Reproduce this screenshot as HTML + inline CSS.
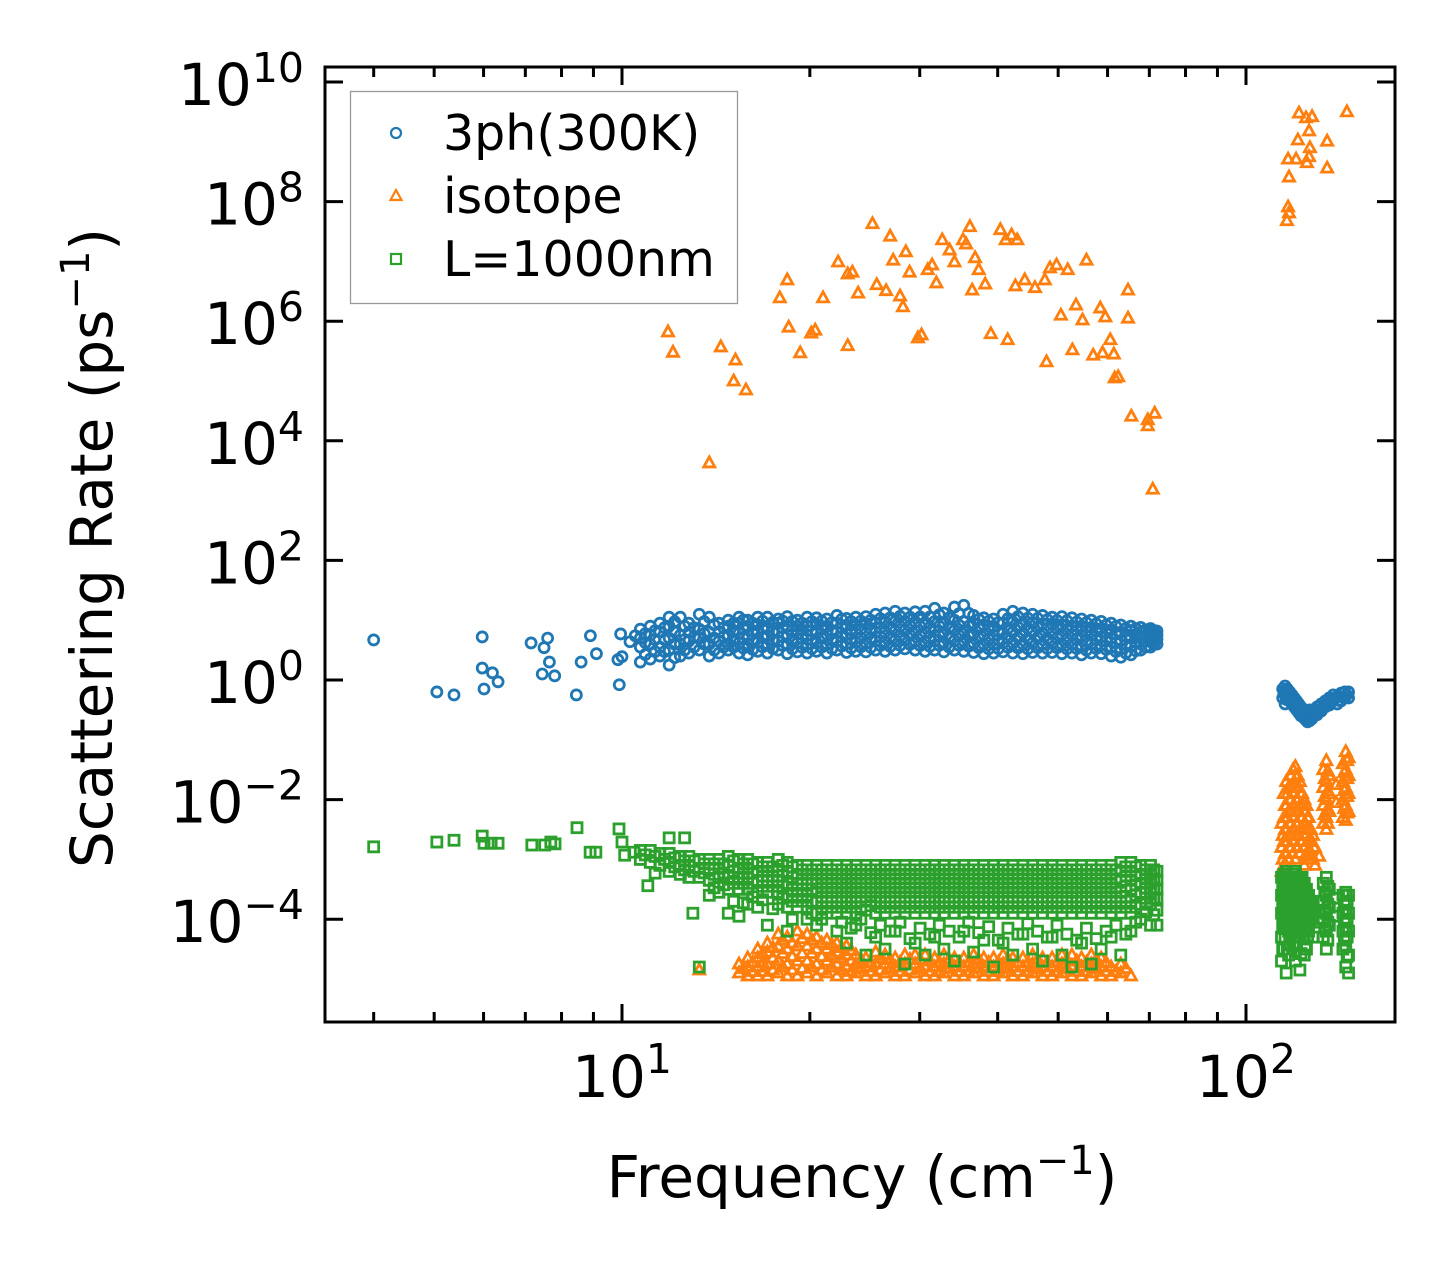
<!DOCTYPE html>
<html><head><meta charset="utf-8"><style>
html,body{margin:0;padding:0;background:#fff;}
svg text{font-family:"DejaVu Sans","Liberation Sans",sans-serif;fill:#000;}
</style></head><body>
<svg id="chart" width="1455" height="1272" viewBox="0 0 1455 1272" xmlns="http://www.w3.org/2000/svg">
<rect x="0" y="0" width="1455" height="1272" fill="#fff"/>
<g id="marks"></g>
<g id="axes"></g>
<g id="legend">
<rect x="350.5" y="91.5" width="387" height="212" fill="#fff" fill-opacity="0.8" stroke="#999" stroke-width="1.3"/>
<circle cx="396" cy="133" r="5" fill="none" stroke="#1f77b4" stroke-width="2.2"/>
<text x="443" y="150" font-size="49">3ph(300K)</text>
<polygon points="396,190 401.5,200 390.5,200" fill="none" stroke="#ff7f0e" stroke-width="2.2"/>
<text x="443" y="213" font-size="49">isotope</text>
<rect x="391" y="254" width="10" height="10" fill="none" stroke="#2ca02c" stroke-width="2.2"/>
<text x="443" y="276" font-size="49">L=1000nm</text>
</g>
<text x="862" y="1197" font-size="58" text-anchor="middle">Frequency (cm<tspan dy="-23" font-size="40">−1</tspan><tspan dy="23">)</tspan></text>
<text transform="translate(112,548) rotate(-90)" font-size="58" text-anchor="middle">Scattering Rate (ps<tspan dy="-23" font-size="40">−1</tspan><tspan dy="23">)</tspan></text>
</svg>
<script>
// ---- data (frequency in cm^-1, rate as log10(ps^-1)) ----
const xTickLabels = ["1","2"];
const yTickExps = [-4,-2,0,2,4,6,8,10];
const bandFreq = [10.7,11.1,11.5,11.9,12.4,12.8,13.3,13.8,14.3,14.8,15.4,15.9,16.5,17.1,17.8,18.4,19.1,19.8,20.5,21.3,22.1,22.9,23.7,24.6,25.5,26.4,27.4,28.4,29.5,30.6,31.7,32.8,34.1,35.3,36.6,38.0,39.4,40.8,42.3,43.9,45.5,47.2,48.9,50.7,52.6,54.5,56.5,58.6,60.8,63.0,65.4,67.8,70.3,72.0];
const blueSparseFreq = [4.0,5.05,5.38,5.97,5.97,6.01,6.2,6.33,7.15,7.5,7.6,7.45,7.65,7.8,8.45,8.6,8.9,9.1,9.95,9.85,10.0,9.9,10.3,10.5];
const blueSparseRate = [0.67,-0.2,-0.25,0.72,0.2,-0.15,0.12,-0.03,0.62,0.54,0.7,0.1,0.3,0.07,-0.25,0.3,0.74,0.44,0.77,0.34,0.39,-0.08,0.64,0.74];
const blueBand = [
[0.3,0.55,0.7,0.85],[0.35,0.6,0.75,0.9],[0.4,0.55,0.8,0.95],[0.25,0.5,0.7,0.9,1.05],[0.4,0.6,0.75,1.05],[0.45,0.65,0.8,0.95],
[0.5,0.7,0.85,1.1],[0.4,0.6,0.8,1.05],[0.45,0.65,0.8,0.95],[0.5,0.6,0.75,0.9,1.0],[0.45,0.62,0.78,0.95,1.05],[0.42,0.6,0.75,0.9,1.0],
[0.48,0.63,0.8,0.92,1.05],[0.45,0.6,0.74,0.88,1.05],[0.5,0.65,0.8,0.95,1.02],[0.44,0.6,0.76,0.9,1.06],[0.47,0.62,0.77,0.9,1.0],[0.45,0.6,0.75,0.9,1.05],
[0.48,0.62,0.78,0.93,1.04],[0.45,0.6,0.76,0.9,1.02],[0.5,0.64,0.8,0.95,1.08],[0.46,0.61,0.77,0.92,1.03],[0.48,0.63,0.78,0.92,1.05],[0.47,0.62,0.78,0.94,1.06],
[0.5,0.65,0.8,0.95,1.1],[0.48,0.64,0.8,0.96,1.12],[0.5,0.66,0.82,0.98,1.15],[0.52,0.67,0.83,0.98,1.12],[0.5,0.65,0.82,0.97,1.14],[0.48,0.64,0.8,0.96,1.15],
[0.5,0.66,0.82,0.98,1.2],[0.47,0.63,0.8,0.96,1.12],[0.5,0.66,0.83,1.0,1.22],[0.48,0.65,0.82,0.98,1.25],[0.46,0.62,0.78,0.95,1.08],[0.44,0.6,0.76,0.92,1.04],
[0.45,0.6,0.75,0.9,1.02],[0.47,0.62,0.78,0.95,1.1],[0.45,0.62,0.8,0.97,1.15],[0.44,0.6,0.78,0.95,1.12],[0.46,0.62,0.8,0.96,1.1],[0.45,0.6,0.78,0.94,1.08],
[0.46,0.62,0.78,0.94,1.05],[0.44,0.6,0.76,0.92,1.06],[0.45,0.6,0.76,0.9,1.04],[0.42,0.58,0.74,0.9,1.02],[0.45,0.6,0.75,0.88,1.0],[0.44,0.58,0.72,0.86,0.98],
[0.4,0.55,0.7,0.84,0.95],[0.38,0.52,0.66,0.8,0.92],[0.42,0.56,0.7,0.82,0.9],[0.5,0.6,0.7,0.8,0.88],[0.55,0.64,0.72,0.8,0.86],[0.6,0.68,0.75,0.82]
];
const blueHighFreq = [114.5,115.5,116.5,117.5,118.5,119.5,120.5,121.5,122.5,123.5,124.5,125.5,126.5,127.5,128.5,130,132,134,136,138,140,142,144,146];
const blueHighRate = [[-0.15,-0.3],[-0.1,-0.25,-0.4],[-0.15,-0.3],[-0.2,-0.35],[-0.25,-0.4],[-0.3,-0.45],[-0.35,-0.5],[-0.4,-0.55],[-0.45,-0.6],[-0.5,-0.62],[-0.52,-0.66],[-0.55,-0.7],[-0.5,-0.68],[-0.55,-0.65],[-0.5,-0.6],[-0.45,-0.58],[-0.4,-0.52],[-0.35,-0.45],[-0.3,-0.42],[-0.25,-0.35],[-0.28,-0.4],[-0.22,-0.35],[-0.2,-0.3],[-0.2,-0.3]];
const orangeSparseFreq = [11.85,12.07,14.4,15.2,15.1,15.8,13.8,18.4,17.9,18.5,19.3,20.1,20.4,21.0,22.2,23.0,23.4,23.9,23.0,25.2,25.6,26.5,26.9,27.2,27.9,28.2,28.5,28.9,30.2,29.8,30.9,31.4,31.9,32.6,33.5,34.1,35.2,35.6,36.1,36.8,37.3,38.2,36.4,39.0,40.4,41.2,42.1,43.0,41.5,42.7,44.2,45.9,47.6,48.5,49.7,47.9,50.5,51.8,52.7,53.4,55.5,54.7,56.9,58.4,59.5,60.6,61.4,61.6,62.4,58.9,64.7,64.7,65.5,69.6,71.4,69.6,70.9,121.6,124.8,127.6,126.2,121.1,134.9,126.6,126.2,116.8,120.3,125.2,134.9,117.2,116.8,117.2,116.3,145.1];
const orangeSparseRate = [5.82,5.48,5.57,5.35,5.0,4.85,3.63,6.69,6.39,5.9,5.47,5.8,5.85,6.39,6.99,6.79,6.82,6.47,5.59,7.63,6.61,6.51,7.42,7.02,6.42,6.24,7.16,6.82,5.77,5.72,6.86,6.94,6.64,7.36,7.19,6.99,7.36,7.29,7.58,7.06,6.86,6.62,6.52,5.79,7.53,7.36,7.44,7.36,5.69,6.59,6.69,6.56,6.69,6.89,6.94,5.32,6.1,6.86,5.52,6.27,7.02,6.02,5.43,6.22,6.07,5.69,5.45,5.05,5.07,5.47,6.52,6.05,4.41,4.35,4.46,4.25,3.19,9.48,9.4,9.42,9.18,9.03,9.01,8.9,8.75,8.71,8.71,8.65,8.56,8.41,7.91,7.81,7.68,9.5];
const orangeBand = [
[],[],[],[],[],[],[-4.85],[],[],[],[-4.9,-4.75],[-4.95,-4.8,-4.65],[-4.95,-4.8,-4.65,-4.5],[-4.95,-4.75,-4.55,-4.4],[-4.9,-4.7,-4.45,-4.25],[-4.95,-4.75,-4.5,-4.3],[-4.95,-4.7,-4.45,-4.2],[-4.9,-4.7,-4.45,-4.25],
[-4.95,-4.75,-4.5,-4.3],[-4.9,-4.7,-4.5,-4.35],[-4.95,-4.75,-4.55,-4.4],[-4.95,-4.8,-4.6,-4.45],[-4.9,-4.75,-4.6],[-4.95,-4.8,-4.65],[-4.95,-4.75,-4.55],[-4.9,-4.75,-4.6],[-4.95,-4.8,-4.65],[-4.95,-4.75,-4.6],[-4.9,-4.75,-4.6],[-4.95,-4.8,-4.6],
[-4.95,-4.8,-4.65],[-4.9,-4.75,-4.6],[-4.95,-4.8,-4.65],[-4.95,-4.8,-4.65],[-4.9,-4.75,-4.6],[-4.95,-4.8,-4.65],[-4.95,-4.8,-4.65],[-4.9,-4.75,-4.6],[-4.95,-4.8,-4.65],[-4.95,-4.8,-4.65],[-4.9,-4.75,-4.6],[-4.95,-4.8,-4.65],
[-4.95,-4.8,-4.65],[-4.9,-4.75,-4.6],[-4.95,-4.8,-4.6],[-4.95,-4.8,-4.65],[-4.9,-4.75,-4.6],[-4.95,-4.8,-4.65],[-4.95,-4.8],[-4.9,-4.75],[-4.95],[],[],[]
];
const orangeHighFreq = [114,115,116,117,118,119,120,121,122,123,124,125,126,127,128,129,133,134.5,136,143,144.5,146];
const orangeHighRate = [[-2.4,-2.8,-3.2],[-1.9,-2.3,-2.7,-3.1],[-1.7,-2.1,-2.5,-2.9],[-1.8,-2.2,-2.6,-3.0],[-1.6,-2.0,-2.4,-2.8],[-1.5,-1.9,-2.3,-2.7],[-1.45,-1.8,-2.2,-2.6,-3.0],[-1.6,-2.0,-2.4,-2.8],[-1.7,-2.1,-2.5,-2.9],[-1.9,-2.3,-2.7],[-2.0,-2.4,-2.8,-3.1],[-2.1,-2.5,-2.9],[-2.3,-2.7,-3.0],[-2.5,-2.9],[-2.6,-3.0],[-2.8,-3.1],[-1.5,-1.8,-2.1,-2.4],[-1.35,-1.7,-2.0,-2.3,-2.5],[-1.6,-1.9,-2.2],[-1.4,-1.7,-2.0,-2.3],[-1.2,-1.5,-1.8,-2.1,-2.35],[-1.3,-1.6,-1.9,-2.2]];
const greenSparseFreq = [4.0,5.05,5.38,5.97,6.01,6.17,6.33,7.17,7.52,7.69,7.81,8.47,8.89,9.08,9.89,10.0,10.1,10.45,11.0,11.3,11.9,12.6,12.99,13.3];
const greenSparseRate = [-2.79,-2.71,-2.68,-2.61,-2.73,-2.73,-2.73,-2.76,-2.76,-2.71,-2.74,-2.47,-2.88,-2.88,-2.49,-2.71,-2.93,-2.88,-3.44,-3.23,-2.64,-2.64,-3.9,-4.8];
const greenBand = [
[-2.85,-3.0],[-2.85,-3.05],[-2.9,-3.1],[-2.9,-3.05,-3.2],[-2.95,-3.1,-3.25],[-2.95,-3.1,-3.3],[-3.0,-3.15,-3.3],[-3.0,-3.15,-3.35,-3.6],[-3.0,-3.15,-3.3,-3.55],[-2.95,-3.1,-3.3,-3.5,-3.9],
[-3.0,-3.15,-3.3,-3.5,-3.95],[-3.0,-3.15,-3.3,-3.5,-3.75],[-3.05,-3.2,-3.35,-3.55,-3.8],[-3.05,-3.2,-3.35,-3.55,-4.1],[-3.0,-3.2,-3.35,-3.55,-3.75],[-3.05,-3.2,-3.4,-3.6,-3.8,-4.2],[-3.1,-3.25,-3.4,-3.6,-3.8],[-3.1,-3.25,-3.4,-3.6,-3.8,-4.0],
[-3.1,-3.25,-3.4,-3.55,-3.7,-3.9,-4.1],[-3.1,-3.25,-3.4,-3.55,-3.7,-3.9],[-3.1,-3.25,-3.4,-3.55,-3.7,-3.9,-4.2],[-3.1,-3.25,-3.4,-3.55,-3.7,-3.9,-4.4],[-3.1,-3.25,-3.4,-3.55,-3.7,-3.9,-4.1],[-3.1,-3.25,-3.4,-3.55,-3.7,-3.85,-4.6],
[-3.1,-3.25,-3.4,-3.55,-3.7,-3.9,-4.3],[-3.1,-3.25,-3.4,-3.55,-3.7,-3.9,-4.5],[-3.1,-3.25,-3.4,-3.55,-3.7,-3.9,-4.2],[-3.1,-3.25,-3.4,-3.55,-3.7,-3.9,-4.75],[-3.1,-3.25,-3.4,-3.55,-3.7,-3.9,-4.4],[-3.1,-3.25,-3.4,-3.55,-3.7,-3.9,-4.6],
[-3.1,-3.25,-3.4,-3.55,-3.7,-3.9,-4.3],[-3.1,-3.25,-3.4,-3.55,-3.7,-3.9,-4.5],[-3.1,-3.25,-3.4,-3.55,-3.7,-3.9,-4.7],[-3.1,-3.25,-3.4,-3.55,-3.7,-3.9,-4.2],[-3.1,-3.25,-3.4,-3.55,-3.7,-3.9,-4.55],[-3.1,-3.25,-3.4,-3.55,-3.7,-3.9,-4.35],
[-3.1,-3.25,-3.4,-3.55,-3.7,-3.9,-4.8],[-3.1,-3.25,-3.4,-3.55,-3.7,-3.9,-4.4],[-3.1,-3.25,-3.4,-3.55,-3.7,-3.9,-4.6],[-3.1,-3.25,-3.4,-3.55,-3.7,-3.9,-4.25],[-3.1,-3.25,-3.4,-3.55,-3.7,-3.9,-4.5],[-3.1,-3.25,-3.4,-3.55,-3.7,-3.9,-4.7],
[-3.1,-3.25,-3.4,-3.55,-3.7,-3.9,-4.3],[-3.1,-3.25,-3.4,-3.55,-3.7,-3.9,-4.6],[-3.1,-3.25,-3.4,-3.55,-3.7,-3.9,-4.8],[-3.1,-3.25,-3.4,-3.55,-3.7,-3.9,-4.4],[-3.1,-3.25,-3.4,-3.55,-3.7,-3.9,-4.75],[-3.1,-3.25,-3.4,-3.55,-3.7,-3.9,-4.5],
[-3.1,-3.25,-3.4,-3.55,-3.7,-3.9,-4.3],[-3.05,-3.2,-3.35,-3.55,-3.7,-3.9,-4.6],[-3.05,-3.2,-3.35,-3.5,-3.7,-3.9,-4.2],[-3.1,-3.25,-3.4,-3.55,-3.75,-4.0],[-3.1,-3.25,-3.4,-3.55,-3.75,-4.1],[-3.2,-3.35,-3.5,-3.65,-3.85,-4.1]
];
const greenHighFreq = [114,115,116,117,118,119,120,121,122,123,124,125,126,127,128,133,134.5,136,143,144.5,146];
const greenHighRate = [[-3.3,-3.6,-3.9,-4.3,-4.7],[-3.25,-3.55,-3.85,-4.15,-4.5],[-3.2,-3.5,-3.8,-4.1,-4.9],[-3.3,-3.6,-3.9,-4.2,-4.6],[-3.3,-3.6,-3.9,-4.2],[-3.25,-3.55,-3.85,-4.15,-4.45],[-3.2,-3.5,-3.8,-4.1,-4.7],[-3.3,-3.6,-3.9,-4.2],[-3.3,-3.6,-3.9,-4.3,-4.85],[-3.3,-3.6,-3.9,-4.2],[-3.4,-3.7,-4.0,-4.3,-4.6],[-3.5,-3.8,-4.1,-4.5],[-3.6,-3.9,-4.2],[-3.7,-4.0],[-3.8,-4.3],[-3.4,-3.7,-4.0,-4.3],[-3.3,-3.6,-3.9,-4.2,-4.5],[-3.5,-3.8,-4.1],[-3.6,-3.9,-4.2,-4.5],[-3.55,-3.85,-4.15,-4.45,-4.8],[-3.6,-3.9,-4.2,-4.6,-4.9]];

// ---- axes ----
const L=325,R=1395,T=67,B=1022;
const x0=622, pxPerDecX=624, y0=680, pxPerDecY=59.8;
function xs(f){return x0+(Math.log10(f)-1)*pxPerDecX;}
function ys(e){return y0-e*pxPerDecY;}
const NS="http://www.w3.org/2000/svg";
const marks=document.getElementById('marks');
const axes=document.getElementById('axes');
function mk(tag,attrs,parent){const el=document.createElementNS(NS,tag);for(const k in attrs)el.setAttribute(k,attrs[k]);parent.appendChild(el);return el;}
const SW=2.8;
function circle(x,y){const el=mk('circle',{cx:x,cy:y,r:5,fill:'none',stroke:'#1f77b4','stroke-width':SW},marks);

}
function tri(x,y){const el=mk('polygon',{points:`${x},${y-6} ${x+5.5},${y+4} ${x-5.5},${y+4}`,fill:'none',stroke:'#ff7f0e','stroke-width':SW},marks);

}
function sq(x,y){const el=mk('rect',{x:x-5,y:y-5,width:10,height:10,fill:'none',stroke:'#2ca02c','stroke-width':SW},marks);

}
function pts(freqs,rates,draw){freqs.forEach((f,i)=>draw(xs(f),ys(rates[i])));}
function band(freqs,cols,draw,dense){freqs.forEach((f,i)=>{const x=xs(f);cols[i].forEach(e=>draw(x,ys(e)));
 if(dense&&i<freqs.length-1&&cols[i+1].length){const xn=(x+xs(freqs[i+1]))/2;const c=cols[i];
  for(let k=0;k<c.length-1;k++){draw(xn,(ys(c[k])+ys(c[k+1]))/2);}
  if(c.length===1)draw(xn,ys(c[0]));}});}

pts(blueSparseFreq,blueSparseRate,circle);
band(bandFreq,blueBand,circle,true);
band(blueHighFreq,blueHighRate,circle,true);
pts(orangeSparseFreq,orangeSparseRate,tri);
band(bandFreq,orangeBand,tri,true);
band(orangeHighFreq,orangeHighRate,tri,true);
pts(greenSparseFreq,greenSparseRate,sq);
band(bandFreq,greenBand,sq,true);
band(greenHighFreq,greenHighRate,sq,true);

const frame=mk('rect',{x:L,y:T,width:R-L,height:B-T,fill:'none',stroke:'#000','stroke-width':3},axes);


for(const d of [1,10,100]){for(let m=1;m<10;m++){const f=d*m;const x=xs(f);if(x<L||x>R)continue;const len=m===1?18:10;
const t1=mk('line',{x1:x,y1:B,x2:x,y2:B-len,stroke:'#000','stroke-width':3},axes);


const t2=mk('line',{x1:x,y1:T,x2:x,y2:T+len,stroke:'#000','stroke-width':3},axes);

}}
xTickLabels.forEach(lab=>{const x=xs(Math.pow(10,+lab));
const tx=mk('text',{x:x,y:1097,'font-size':58,'text-anchor':'middle'},axes);


tx.innerHTML=`10<tspan dy="-24" font-size="41">${lab}</tspan>`;});
yTickExps.forEach(e=>{const y=ys(e);
const t1=mk('line',{x1:L,y1:y,x2:L+18,y2:y,stroke:'#000','stroke-width':3},axes);


const t2=mk('line',{x1:R,y1:y,x2:R-18,y2:y,stroke:'#000','stroke-width':3},axes);


const lab=e<0?'−'+(-e):String(e);
const tx=mk('text',{x:304,y:y+23,'font-size':58,'text-anchor':'end'},axes);


tx.innerHTML=`10<tspan dy="-23" font-size="41">${lab}</tspan>`;});
</script>
</body></html>
